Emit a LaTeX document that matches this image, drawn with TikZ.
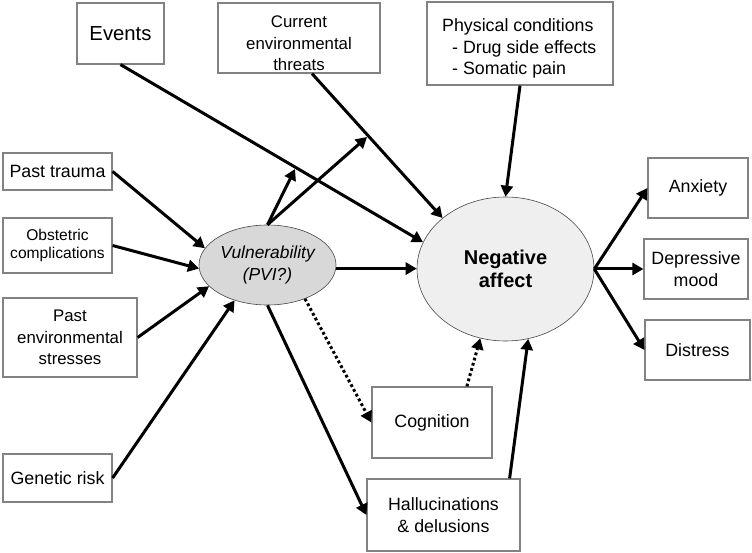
\documentclass[tikz,border=0pt]{standalone}
\usepackage{fontspec}
\setmainfont{Liberation Sans}
\usetikzlibrary{arrows.meta,calc,shapes.geometric}
\definecolor{boxgray}{RGB}{130,130,130}
\definecolor{ellborder}{RGB}{70,70,70}
\definecolor{vulfill}{RGB}{216,216,216}
\definecolor{negfill}{RGB}{239,239,239}
\begin{document}
\begin{tikzpicture}[x=1pt,y=-1pt,
  box/.style={draw=boxgray, line width=1.2pt, fill=white, align=center, inner sep=0pt,
    font=\fontsize{17.8}{21.5}\selectfont},
  plain/.style={align=center, inner sep=0pt, font=\fontsize{17.8}{21.5}\selectfont},
  ell/.style={ellipse, draw=ellborder, line width=0.6pt, inner sep=0pt, align=center},
  arr/.style={line width=3pt, -{Triangle[length=11pt,width=12pt]}},
  dotarr/.style={line width=3pt, dash pattern=on 2.8pt off 2.6pt, -{Triangle[length=11pt,width=12pt]}}]
\useasboundingbox (0,0) rectangle (752,553);

% boxes
\node[box, minimum width=87pt, minimum height=61pt, font=\fontsize{20.3}{24}\selectfont] (ev) at (120.5,33.5) {Events};
\node[box, minimum width=162pt, minimum height=70pt] (cur) at (299,38) {};
\node[plain, font=\fontsize{16.8}{21.5}\selectfont] (curt) at (299,43.5) {Current\\environmental\\threats};
\node[box, minimum width=186pt, minimum height=83pt] (phys) at (520,43.5) {};
\node[plain, align=left, anchor=west] (physt) at (442,48.5) {Physical conditions\\\hspace*{10pt}- Drug side effects\\\hspace*{10pt}- Somatic pain};
\node[box, minimum width=109pt, minimum height=37pt] (pt) at (57.5,171.5) {Past trauma};
\node[box, minimum width=109pt, minimum height=55pt, font=\fontsize{15.6}{18.5}\selectfont] (obs) at (57.5,245.5) {Obstetric\\complications};
\node[box, minimum width=134pt, minimum height=79pt, font=\fontsize{16.8}{21.5}\selectfont] (pe) at (70,337.5) {Past\\environmental\\stresses};
\node[box, minimum width=109pt, minimum height=48pt] (gen) at (57.5,478) {Genetic risk};
\node[box, minimum width=100pt, minimum height=60pt] (anx) at (698,188) {Anxiety};
\node[box, minimum width=104pt, minimum height=60pt] (dep) at (696,269) {Depressive\\mood};
\node[box, minimum width=105pt, minimum height=60pt] (dis) at (697.5,350) {Distress};
\node[box, minimum width=120pt, minimum height=71pt] (cog) at (432,422.5) {Cognition};
\node[box, minimum width=153pt, minimum height=72pt] (hal) at (443.5,515) {Hallucinations\\\& delusions};

% ellipses
\node[ell, fill=vulfill, minimum width=137pt, minimum height=80pt,
  font=\itshape\fontsize{17.4}{22}\selectfont] (vul) at (267.5,265) {Vulnerability\\(PVI?)};
\node[ell, fill=negfill, minimum width=177pt, minimum height=144pt,
  font=\bfseries\fontsize{20}{23}\selectfont] (neg) at (505.5,269) {Negative\\affect};

% free ends of the moderating arrows
\coordinate (m1) at (295,169);
\coordinate (m2) at (367,137);

% arrows into negative affect
\draw[arr] (ev.south) -- (neg.162);
\draw[arr] ($(cur.south)+(13,0)$) -- (neg.141);
\draw[arr] (phys.south) -- (neg.north);
\draw[arr] (vul.-3) -- (vul.-3 -| neg.west);
\draw[dotarr] (cog.46) -- (neg.250);
\draw[arr] ([xshift=-11pt]hal.north east) -- (neg.288);

% arrows into vulnerability
\draw[arr] (pt.east) -- (vul.165);
\draw[arr] (obs.east) -- (vul.183);
\draw[arr] (pe.east) -- (vul.200);
\draw[arr] (gen.east) -- (vul.227);

% arrows from vulnerability
\draw[arr] (vul.north) -- (m1);
\draw[arr] (vul.north) -- (m2);
\draw[dotarr] (vul.-42) -- (cog.west);
\draw[arr] (vul.south) -- (hal.west);

% outcomes
\draw[arr] (neg.east) -- (anx.west);
\draw[arr] (neg.east) -- (dep.west);
\draw[arr] (neg.east) -- (dis.west);
\end{tikzpicture}
\end{document}
